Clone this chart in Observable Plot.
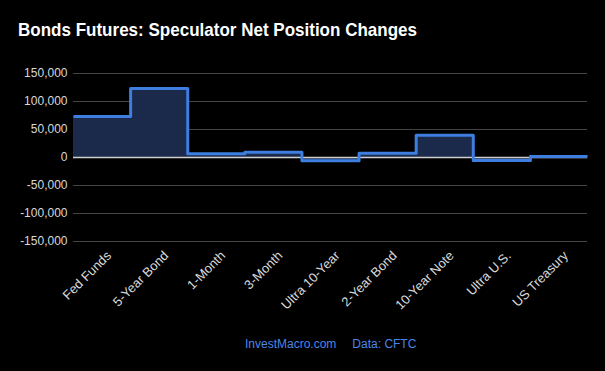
<!DOCTYPE html>
<html>
<head>
<meta charset="utf-8">
<script src="https://cdn.jsdelivr.net/npm/d3@7"></script>
<script src="https://cdn.jsdelivr.net/npm/@observablehq/plot@0.6"></script>
<style>
  html, body { margin: 0; padding: 0; background: #000; }
  #wrap { position: relative; width: 605px; height: 371px; background: #000; overflow: hidden; font-family: "Liberation Sans", Arial, sans-serif; }
  #title { position: absolute; left: 18px; top: 19px; color: #fff; font-weight: bold; font-size: 19px; white-space: nowrap; transform-origin: 0 0; }
  #footer { position: absolute; left: 245px; top: 337px; color: #4a86e8; font-size: 12px; white-space: nowrap; }
  #footer span + span { margin-left: 16px; }
  #chart { position: absolute; left: 0; top: 0; }
</style>
</head>
<body>
<div id="wrap">
  <div id="chart"></div>
  <div id="title">Bonds Futures: Speculator Net Position Changes</div>
  <div id="footer"><span>InvestMacro.com</span><span>Data: CFTC</span></div>
</div>
<script>
const categories = ["Fed Funds", "5-Year Bond", "1-Month", "3-Month", "Ultra 10-Year", "2-Year Bond", "10-Year Note", "Ultra U.S.", "US Treasury"];
const netChanges = [73000, 123200, 6600, 9500, -5900, 7700, 39800, -5400, 2000];
const yTicks = [-150000, -100000, -50000, 0, 50000, 100000, 150000];

// step points: each category occupies [i, i+1]
const steps = categories.map((c, i) => ({x: i, y: netChanges[i]}));
steps.push({x: categories.length, y: netChanges[netChanges.length - 1]});
const tickPos = categories.map((c, i) => i + 0.5);

const fmt = d => d.toLocaleString("en-US");

const chart = Plot.plot({
  width: 605,
  height: 371,
  marginLeft: 73,
  marginRight: 18,
  marginTop: 73,
  marginBottom: 130,
  style: {background: "transparent", color: "#d9d9d9", fontFamily: "'Liberation Sans', Arial, sans-serif", fontSize: "12px"},
  x: {type: "linear", domain: [0, categories.length]},
  y: {domain: [-150000, 150000]},
  marks: [
    Plot.ruleY(yTicks.filter(d => d !== 0), {stroke: "#444", strokeWidth: 1}),
    Plot.areaY(steps, {x: "x", y: "y", curve: "step-after", fill: "#1b2a4b"}),
    Plot.ruleY([0], {stroke: "#cfcfcf", strokeWidth: 1.5}),
    Plot.lineY(steps, {x: "x", y: "y", curve: "step-after", stroke: "#3d7ee0", strokeWidth: 3, strokeLinejoin: "round", strokeLinecap: "butt"}),
    Plot.axisY({ticks: yTicks, tickFormat: fmt, tickSize: 0, tickPadding: 6, fontSize: 12, fill: "#d9d9d9", label: null}),
    Plot.axisX({ticks: tickPos, tickFormat: (d) => categories[Math.round(d - 0.5)], tickRotate: -45, tickSize: 0, tickPadding: 10, fontSize: 13, fill: "#d9d9d9", label: null, dx: 7, dy: 2})
  ]
});
document.getElementById("chart").appendChild(chart);

// fit the title to the reference's measured width
const t = document.getElementById("title");
const w = t.getBoundingClientRect().width;
t.style.transform = `scaleX(${399 / w})`;
</script>
</body>
</html>
